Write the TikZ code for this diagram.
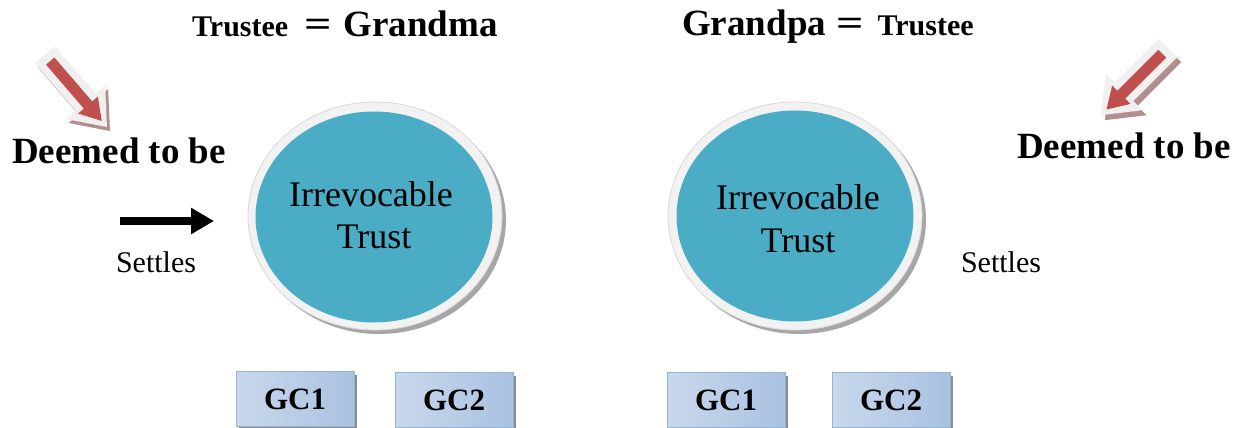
\documentclass[tikz,border=0pt]{standalone}
\usepackage{fontspec}
\setmainfont{Liberation Serif}
\usetikzlibrary{arrows.meta,shapes.geometric,shadows}
\definecolor{teal1}{HTML}{4BACC6}
\definecolor{ring}{HTML}{F2F2F2}
\definecolor{redarr}{HTML}{C0504D}
\definecolor{arrshadow}{HTML}{B38E8E}
\definecolor{arrwhite}{HTML}{F0F0F0}
\definecolor{boxedge}{HTML}{95B3D7}
\definecolor{boxlight}{HTML}{DFE8F4}
\definecolor{boxmid}{HTML}{C9D8EC}
\definecolor{boxdark}{HTML}{A9C2E1}
\newcommand{\bigeq}{\scalebox{1.3}[1]{=}}
\tikzset{
  title/.style={anchor=base west, inner sep=0, font=\bfseries},
  ringshape/.style={ellipse, fill=ring, draw=black!15, line width=0.8, minimum width=254, minimum height=228, inner sep=0},
  ringshadow/.style={ellipse, fill=black!35, minimum width=254, minimum height=228, inner sep=0},
  disc/.style={ellipse, fill=teal1, minimum width=237, minimum height=211, inner sep=0},
  trusttext/.style={anchor=base, inner sep=0, font=\fontsize{36}{43}\selectfont},
  deemed/.style={anchor=base west, inner sep=0, font=\fontsize{37}{44}\selectfont\bfseries},
  settles/.style={anchor=base, inner sep=0, font=\fontsize{30}{36}\selectfont},
  gcbox/.style={draw=boxedge, line width=0.8, minimum width=118, minimum height=55, inner sep=0,
    left color=boxmid, middle color=boxlight, right color=boxdark,
    font=\fontsize{31}{37}\selectfont\bfseries,
    drop shadow={shadow xshift=3pt, shadow yshift=-3pt, fill=black!45, opacity=1}},
  outerarrow/.style={fill=arrwhite},
  innerarrow/.style={fill=redarr},
  shadowarrow/.style={fill=arrshadow},
}
\begin{document}
\begin{tikzpicture}[x=1pt,y=-1pt]
\useasboundingbox[fill=white] (0,0) rectangle (1234,428);

% titles
\node[title] (t1) at (192,37) {{\fontsize{30}{36}\selectfont Trustee}\hspace{16pt}{\fontsize{37}{44}\selectfont\bigeq\hspace{12pt}Grandma}};
\node[title] (t2) at (682,36) {{\fontsize{37}{44}\selectfont Grandpa\hspace{10pt}\bigeq}\hspace{14pt}{\fontsize{30}{36}\selectfont Trustee}};

% left block arrow
\begin{scope}[shift={(48,59)}, rotate=-49.3]
  \fill[shadowarrow] (0,13) -- (62,13) -- (62,26) -- (95,0) -- (62,-26) -- (62,-13) -- (0,-13) -- cycle;
\end{scope}
\begin{scope}[shift={(45,55)}, rotate=-49.3]
  \fill[outerarrow] (0,13) -- (62,13) -- (62,26) -- (95,0) -- (62,-26) -- (62,-13) -- (0,-13) -- cycle;
  \fill[innerarrow] (8,5.5) -- (66,5.5) -- (66,13) -- (87,0) -- (66,-13) -- (66,-5.5) -- (8,-5.5) -- cycle;
\end{scope}

% right block arrow
\begin{scope}[shift={(1172,53)}, rotate=-135]
  \fill[shadowarrow] (0,13) -- (62,13) -- (62,26) -- (95,0) -- (62,-26) -- (62,-13) -- (0,-13) -- cycle;
\end{scope}
\begin{scope}[shift={(1168,48)}, rotate=-135]
  \fill[outerarrow] (0,13) -- (62,13) -- (62,26) -- (95,0) -- (62,-26) -- (62,-13) -- (0,-13) -- cycle;
  \fill[innerarrow] (8,5.5) -- (66,5.5) -- (66,13) -- (87,0) -- (66,-13) -- (66,-5.5) -- (8,-5.5) -- cycle;
\end{scope}

% deemed texts
\node[deemed] (d1) at (12,163) {Deemed to be};
\node[deemed] (d2) at (1017,158) {Deemed to be};

% circles
\node[ringshadow] (c1s) at (379,220) {};
\node[ringshape] (c1o) at (375,216) {};
\node[disc] (c1) at (374,217) {};
\node[trusttext] (i1) at (371,206) {Irrevocable};
\node[trusttext] (tr1) at (374,248) {Trust};

\node[ringshadow] (c2s) at (799,220) {};
\node[ringshape] (c2o) at (795,216) {};
\node[disc] (c2) at (795,216) {};
\node[trusttext] (i2) at (798,209) {Irrevocable};
\node[trusttext] (tr2) at (798,252) {Trust};

% settles
\coordinate (a1s) at (120,221);
\coordinate (a1e) at (214,221);
\draw[line width=8, -{Triangle[length=23pt,width=25pt]}] (a1s) -- (a1e);
\node[settles] (s1) at (156,272) {Settles};
\node[settles] (s2) at (1001,272) {Settles};

% GC boxes
\node[gcbox] (g1) at (295,399) {GC1};
\node[gcbox] (g2) at (454,400) {GC2};
\node[gcbox] (g3) at (726,400) {GC1};
\node[gcbox] (g4) at (891,400) {GC2};
\end{tikzpicture}
\end{document}
